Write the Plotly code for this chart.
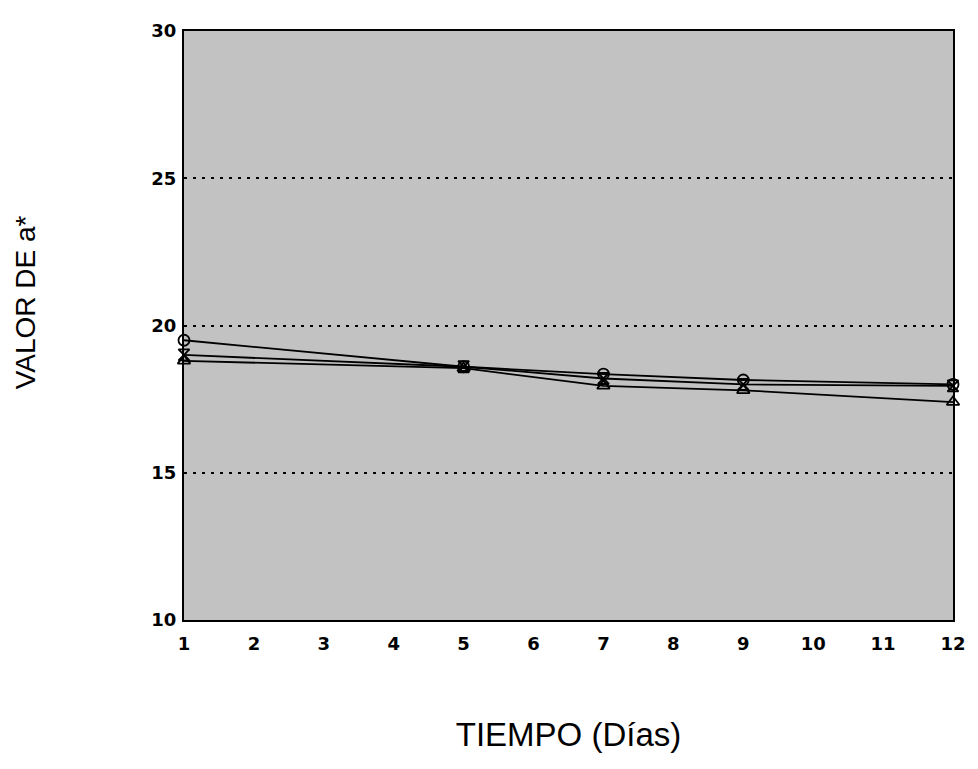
import plotly.graph_objects as go

dias = [1, 5, 7, 9, 12]
serie_circulo = [19.5, 18.6, 18.35, 18.15, 18.0]
serie_reloj = [19.0, 18.6, 18.2, 18.0, 17.95]
serie_triangulo = [18.8, 18.55, 17.95, 17.8, 17.4]

x_ticks = list(range(1, 13))
y_ticks = [10, 15, 20, 25, 30]

fig = go.Figure()
for vals, sym in [(serie_circulo, "circle-open"), (serie_reloj, "hourglass-open"),
                  (serie_triangulo, "triangle-up-open")]:
    fig.add_trace(go.Scatter(
        x=dias, y=vals, mode="lines+markers",
        line=dict(color="black", width=1.8),
        marker=dict(symbol=sym, size=11, color="black", line=dict(color="black", width=1.8)),
        cliponaxis=False, showlegend=False))

tick_font = dict(family="DejaVu Sans", size=18, color="black", weight="bold")

fig.update_layout(
    width=970, height=761,
    margin=dict(l=176, r=18, t=12, b=149),
    paper_bgcolor="white",
    plot_bgcolor="#c2c2c2",
    xaxis=dict(range=[1, 12], tickvals=x_ticks, ticktext=[str(v) for v in x_ticks],
               showgrid=False, zeroline=False, showline=True, linecolor="black",
               linewidth=2, mirror=True, ticks="", tickfont=tick_font,
               ticklabelstandoff=6,
               title=dict(text="TIEMPO (Días)", standoff=70,
                          font=dict(family="Liberation Sans", size=33, color="black"))),
    yaxis=dict(range=[10, 30], tickvals=y_ticks, ticktext=[str(v) for v in y_ticks],
               showgrid=True, gridcolor="black", griddash="3px,6px", gridwidth=2,
               zeroline=False, showline=True, linecolor="black",
               linewidth=2, mirror=True, ticks="", tickfont=tick_font,
               ticklabelstandoff=2),
    annotations=[dict(text="VALOR DE a*", textangle=-90, xref="paper", yref="paper",
                      x=-(184 - 25) / 776, y=(620 - 296) / 600,
                      xanchor="center", yanchor="middle", showarrow=False,
                      font=dict(family="Liberation Sans", size=28, color="black"))],
)

fig.write_html("out.html")
